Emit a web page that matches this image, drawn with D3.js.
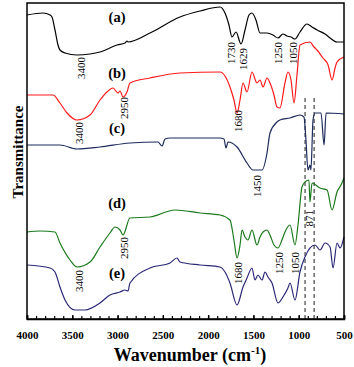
<!DOCTYPE html>
<html>
<head>
<meta charset="utf-8">
<script src="https://cdn.jsdelivr.net/npm/d3@7"></script>
<style>
  body { margin: 0; background: #fff; }
  svg { display: block; font-family: "Liberation Serif", "Times New Roman", serif; }
</style>
</head>
<body>
<svg id="chart" width="354" height="367"></svg>
<script>
// FTIR spectra, [wavenumber cm-1, transmittance a.u.]
const seriesA = [[4000,304],[3823,306],[3746,304],[3724,302],[3691,289],[3658,274],[3636,269],[3580,266],[3448,264],[3304,265],[3194,267],[3006,274],[2918,276],[2896,278],[2885,277],[2642,286],[2311,302],[2090,308],[1869,312],[1814,306],[1770,294],[1737,282],[1692,287],[1637,275],[1593,289],[1549,304],[1516,306],[1472,299],[1427,286],[1350,286],[1284,284],[1229,281],[1174,285],[1130,283],[1085,282],[1041,280],[986,287],[909,295],[853,292],[798,289],[709,285],[654,281],[577,277],[500,277]]
const seriesB = [[4000,224],[3713,224],[3636,216],[3558,206],[3448,199],[3304,204],[3194,219],[3117,227],[3050,231],[2995,226],[2973,228],[2940,222],[2896,227],[2863,236],[2642,241],[2311,246],[1869,247],[1814,243],[1759,232],[1715,219],[1681,206],[1648,219],[1615,236],[1571,227],[1516,247],[1461,236],[1427,239],[1394,232],[1350,241],[1317,236],[1273,224],[1240,212],[1207,211],[1152,236],[1119,247],[1085,239],[1052,216],[1019,244],[986,274],[876,277],[831,272],[798,269],[732,261],[676,254],[632,239],[599,251],[577,257],[500,262]]
const seriesC = [[4000,174],[3636,174],[3448,170],[3194,172],[2863,176],[2554,177],[2509,173],[2476,180],[2421,181],[1869,181],[1825,180],[1803,171],[1781,177],[1681,172],[1571,156],[1505,149],[1405,149],[1350,166],[1317,186],[1240,197],[1207,199],[1096,201],[986,204],[942,202],[920,179],[898,149],[876,154],[865,149],[842,199],[820,206],[754,206],[720,174],[698,206],[500,205]]
const seriesD = [[4000,87],[3856,88],[3691,87],[3636,76],[3525,59],[3448,52],[3304,57],[3194,72],[3084,86],[3028,92],[2973,89],[2940,84],[2863,101],[2642,102],[2366,109],[2090,106],[1869,104],[1759,99],[1715,79],[1681,61],[1648,74],[1626,89],[1593,82],[1560,79],[1516,89],[1461,74],[1427,82],[1394,87],[1350,89],[1317,84],[1273,74],[1229,71],[1185,79],[1152,87],[1096,94],[1041,74],[1008,94],[964,132],[931,137],[887,139],[876,117],[853,136],[765,131],[687,129],[632,109],[577,127],[533,134],[500,141]]
const seriesE = [[4000,54],[3746,51],[3691,47],[3636,32],[3580,19],[3470,9],[3360,9],[3194,16],[3084,24],[2973,27],[2918,29],[2885,28],[2863,36],[2642,51],[2421,56],[2344,61],[2311,57],[2090,54],[1869,52],[1814,47],[1759,36],[1681,14],[1615,32],[1571,41],[1516,51],[1483,39],[1450,44],[1405,39],[1372,47],[1339,42],[1295,36],[1229,16],[1174,22],[1119,31],[1096,36],[1041,19],[986,47],[931,62],[820,74],[765,69],[709,76],[654,72],[621,51],[577,76],[544,71],[500,82]]

const seriesNames = ['(a)', '(b)', '(c)', '(d)', '(e)']
const seriesColors = ['#000000', '#ff1a1a', '#1c2a5c', '#1b7a1b', '#2b2878']
const nameAt = [[3006,297],[3006,241],[3006,186],[3006,111],[3006,41]]

// band assignments: [label, wavenumber, top of text]
const peakLabels = [
  ['3400',3393,262],['1730',1737,277],['1629',1615,271],['1250',1218,277],['1050',1063,277],
  ['3400',3420,197],['2950',2918,222],['1680',1670,209],
  ['1450',1450,144],
  ['2950',2918,82],['3400',3420,49],['1680',1670,57],['1250',1207,67],['1050',1041,67],
  ['871',876,109]
]
const dashedAt = [930, 830]
const xTicks = [4000, 3500, 3000, 2500, 2000, 1500, 1000, 500]

const margin = { top: 3, right: 10, bottom: 48, left: 27 }
const width = 354
const height = 367

const x = d3.scaleLinear().domain([4000, 500]).range([margin.left, width - margin.right])
const y = d3.scaleLinear().domain([0, 316]).range([height - margin.bottom, margin.top])

const svg = d3.select('#chart')

const line = d3.line()
  .x(d => x(d[0]))
  .y(d => y(d[1]))
  .curve(d3.curveMonotoneX)

const all = [seriesA, seriesB, seriesC, seriesD, seriesE]

svg.append('g')
  .selectAll('line')
  .data(dashedAt)
  .enter().append('line')
    .attr('x1', d => x(d)).attr('x2', d => x(d))
    .attr('y1', y(221)).attr('y2', y(0))
    .attr('stroke', '#333')
    .attr('stroke-width', 1.1)
    .attr('stroke-dasharray', '4,3')

svg.append('g')
  .selectAll('path')
  .data(all)
  .enter().append('path')
    .attr('d', line)
    .attr('fill', 'none')
    .attr('stroke', (d, i) => seriesColors[i])
    .attr('stroke-width', 1.2)
    .attr('stroke-linejoin', 'round')

// frame
svg.append('rect')
  .attr('x', x(4000)).attr('y', y(316))
  .attr('width', x(500) - x(4000))
  .attr('height', y(0) - y(316))
  .attr('fill', 'none')
  .attr('stroke', '#000')
  .attr('stroke-width', 1.5)

// minor ticks every 100
const minor = d3.axisBottom(x).tickValues(d3.range(500, 4001, 100)).tickSize(-3).tickFormat('')
svg.append('g')
  .attr('transform', `translate(0,${y(0)})`)
  .call(minor)
  .call(g => g.select('.domain').remove())
  .selectAll('line').attr('stroke-width', 1.2)

const xAxis = d3.axisBottom(x).tickValues(xTicks).tickSize(-4).tickPadding(12).tickFormat(d3.format('d'))
svg.append('g')
  .attr('transform', `translate(0,${y(0)})`)
  .call(xAxis)
  .call(g => g.select('.domain').attr('stroke-width', 1.5))
  .call(g => g.selectAll('line').attr('stroke-width', 1.4))
  .call(g => g.selectAll('text')
    .attr('font-family', '"Liberation Serif", serif')
    .attr('font-size', 11)
    .attr('font-weight', 'bold')
    .attr('fill', '#000'))

// series names
svg.append('g')
  .selectAll('text')
  .data(seriesNames)
  .enter().append('text')
    .attr('x', (d, i) => x(nameAt[i][0]))
    .attr('y', (d, i) => y(nameAt[i][1]))
    .attr('text-anchor', 'middle')
    .attr('font-size', 14.5)
    .attr('font-weight', 'bold')
    .text(d => d)

// band labels, rotated
svg.append('g')
  .selectAll('text')
  .data(peakLabels)
  .enter().append('text')
    .attr('transform', d => `translate(${x(d[1]) + 3.5},${y(d[2])}) rotate(-90)`)
    .attr('text-anchor', 'end')
    .attr('font-size', 11)
    .text(d => d[0])

// axis titles
const xt = svg.append('text')
  .attr('x', 190)
  .attr('y', 361)
  .attr('text-anchor', 'middle')
  .attr('font-size', 18)
  .attr('font-weight', 'bold')
xt.append('tspan').text('Wavenumber (cm')
xt.append('tspan').attr('dy', -7).attr('font-size', 11).text('-1')
xt.append('tspan').attr('dy', 7).text(')')

svg.append('text')
  .attr('transform', 'translate(23,152) rotate(-90)')
  .attr('text-anchor', 'middle')
  .attr('font-size', 15)
  .attr('font-weight', 'bold')
  .text('Transmittance')
</script>
</body>
</html>
